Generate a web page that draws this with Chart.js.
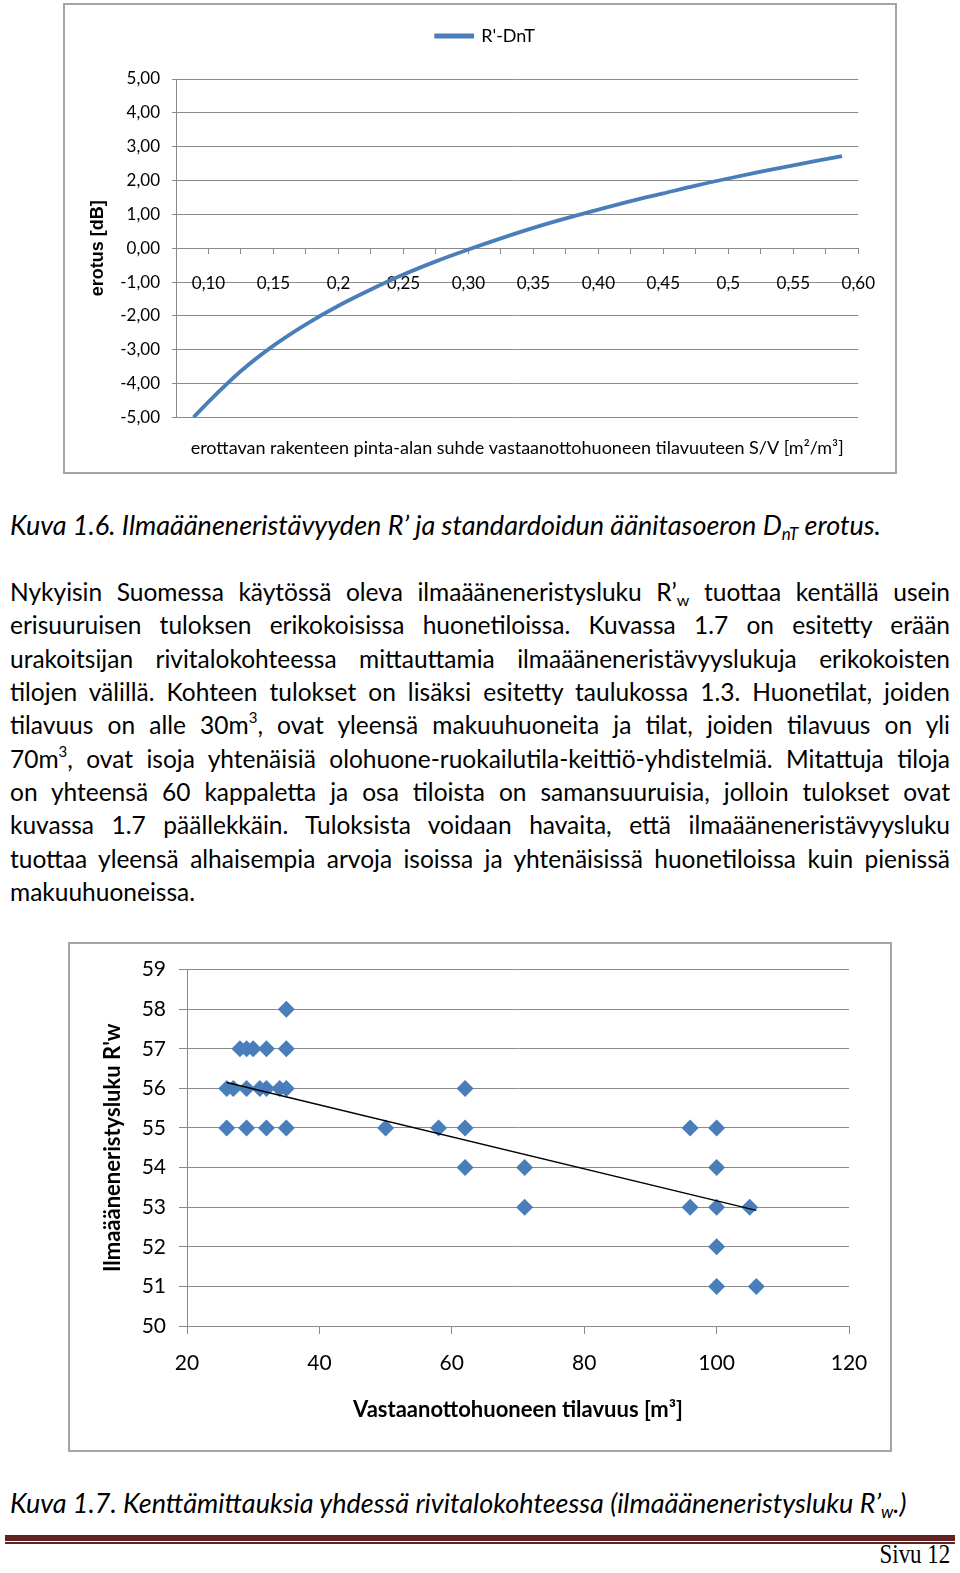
<!DOCTYPE html>
<html lang="fi">
<head>
<meta charset="utf-8">
<title>Kuva 1.6 ja 1.7</title>
<script src="https://cdn.jsdelivr.net/npm/chart.js@4.4.1/dist/chart.umd.min.js"></script>
<style>
html, body { margin: 0; padding: 0; background: #fff; }
body { position: relative; width: 960px; height: 1573px; overflow: hidden; font-family: Lato, "Open Sans", sans-serif; color: #000; }
.kehys { position: absolute; box-sizing: border-box; border: 2px solid #a5a5a5; background: #fff; }
.kehys canvas { display: block; }
.kuvateksti { position: absolute; left: 10px; font-size: 27px; font-style: italic; white-space: nowrap; line-height: 30px; }
.kuvateksti sub { font-size: 17px; vertical-align: -5px; line-height: 0; }
#teksti { position: absolute; left: 10px; top: 575px; width: 940px; font-size: 24.5px; }
#teksti div { height: 33.33px; line-height: 33.33px; text-align: justify; text-align-last: justify; }
#teksti div.viim { text-align-last: left; }
#teksti sup { font-size: 15px; vertical-align: 11px; line-height: 0; }
#teksti sub { font-size: 16px; vertical-align: -5px; line-height: 0; }
.viiva { position: absolute; left: 5px; width: 950px; background: #622423; }
#sivu { position: absolute; right: 10px; top: 1538px; font-family: "Liberation Serif", serif; font-size: 27px; line-height: 32px; transform: scaleX(0.85); transform-origin: right; }
</style>
</head>
<body>

<div class="kehys" style="left:63px; top:3px; width:834px; height:471px;">
  <canvas id="kuva16" width="830" height="467"></canvas>
</div>

<div class="kuvateksti" style="top:510px;">Kuva 1.6. Ilmaääneneristävyyden R’ ja standardoidun äänitasoeron D<sub>nT</sub> erotus.</div>

<div id="teksti">
  <div>Nykyisin Suomessa käytössä oleva ilmaääneneristysluku R’<sub>w</sub> tuottaa kentällä usein</div>
  <div>erisuuruisen tuloksen erikokoisissa huonetiloissa. Kuvassa 1.7 on esitetty erään</div>
  <div>urakoitsijan rivitalokohteessa mittauttamia ilmaääneneristävyyslukuja erikokoisten</div>
  <div>tilojen välillä. Kohteen tulokset on lisäksi esitetty taulukossa 1.3. Huonetilat, joiden</div>
  <div>tilavuus on alle 30m<sup>3</sup>, ovat yleensä makuuhuoneita ja tilat, joiden tilavuus on yli</div>
  <div>70m<sup>3</sup>, ovat isoja yhtenäisiä olohuone-ruokailutila-keittiö-yhdistelmiä. Mitattuja tiloja</div>
  <div>on yhteensä 60 kappaletta ja osa tiloista on samansuuruisia, jolloin tulokset ovat</div>
  <div>kuvassa 1.7 päällekkäin. Tuloksista voidaan havaita, että ilmaääneneristävyysluku</div>
  <div>tuottaa yleensä alhaisempia arvoja isoissa ja yhtenäisissä huonetiloissa kuin pienissä</div>
  <div class="viim">makuuhuoneissa.</div>
</div>

<div class="kehys" style="left:68px; top:942px; width:824px; height:510px;">
  <canvas id="kuva17" width="820" height="506"></canvas>
</div>

<div class="kuvateksti" style="top:1488px;">Kuva 1.7. Kenttämittauksia yhdessä rivitalokohteessa (ilmaääneneristysluku R’<sub>w</sub>.)</div>

<div class="viiva" style="top:1535px; height:6px;"></div>
<div class="viiva" style="top:1542px; height:2px;"></div>
<div id="sivu">Sivu 12</div>

<script>
// Kuva 1.6: R'-DnT erotus S/V-suhteen mukaan (arvot luettu kuvasta)
const svSuhde = [0.0885, 0.10, 0.125, 0.15, 0.175, 0.20, 0.225, 0.25, 0.275, 0.30, 0.325,
                 0.35, 0.375, 0.40, 0.425, 0.45, 0.475, 0.50, 0.525, 0.55, 0.575, 0.5875];
const erotus = [-5.00, -4.54, -3.63, -2.88, -2.25, -1.70, -1.22, -0.78, -0.39, -0.04, 0.29,
                0.60, 0.88, 1.14, 1.39, 1.62, 1.85, 2.06, 2.26, 2.45, 2.63, 2.72];
const svTikit = [0.075, 0.10, 0.125, 0.15, 0.175, 0.20, 0.225, 0.25, 0.275, 0.30, 0.325,
                 0.35, 0.375, 0.40, 0.425, 0.45, 0.475, 0.50, 0.525, 0.55, 0.575, 0.60];
const svNimet = ['', '0,10', '', '0,15', '', '0,2', '', '0,25', '', '0,30', '',
                 '0,35', '', '0,40', '', '0,45', '', '0,5', '', '0,55', '', '0,60'];

// Kuva 1.7: kenttämittaukset, tilavuus [m3] ja R'w
const tilavuus = [35,
                  28, 29, 30, 32, 35,
                  26, 27, 29, 31, 32, 34, 35, 62,
                  26, 29, 32, 35, 50, 58, 62, 96, 100,
                  62, 71, 100,
                  71, 96, 100, 105,
                  100,
                  100, 106];
const rwArvo = [58,
                57, 57, 57, 57, 57,
                56, 56, 56, 56, 56, 56, 56, 56,
                55, 55, 55, 55, 55, 55, 55, 55, 55,
                54, 54, 54,
                53, 53, 53, 53,
                52,
                51, 51];
// trendiviiva (alku- ja loppupiste luettu kuvasta)
const trendiX = [26, 106];
const trendiY = [56.15, 52.92];

const sininen = '#4a7ebb';
const harmaa = '#8a8a8a';

Chart.defaults.font.family = 'Lato, "Open Sans", sans-serif';
Chart.defaults.color = '#000';

// siirretään selitettä hieman oikealle kuten alkuperäisessä
const selitesiirto = {
    id: 'selitesiirto',
    afterLayout(chart) {
        if (chart.legend) chart.legend.left += 44;
    }
};

new Chart(document.getElementById('kuva16'), {
    type: 'line',
    data: {
        datasets: [{
            label: "R'-DnT",
            data: svSuhde.map((x, i) => ({ x: x, y: erotus[i] })),
            borderColor: sininen,
            backgroundColor: sininen,
            borderWidth: 3.8,
            pointRadius: 0,
            cubicInterpolationMode: 'monotone'
        }]
    },
    plugins: [selitesiirto],
    options: {
        responsive: false,
        animation: false,
        layout: { padding: { top: 12, right: 33, bottom: 0, left: 0 } },
        plugins: {
            legend: {
                position: 'top',
                labels: { boxWidth: 36, boxHeight: 1, padding: 10, font: { size: 18 } }
            },
            // tyhjä väli selitteen ja kuvaajan välissä
            subtitle: { display: true, text: '', position: 'top', weight: 500, padding: 6, font: { size: 10 } },
            title: {
                display: true,
                text: 'erottavan rakenteen pinta-alan suhde vastaanottohuoneen tilavuuteen S/V [m²/m³]',
                position: 'bottom',
                fullSize: false,
                padding: { top: 20, bottom: 13 },
                font: { size: 18, weight: 'normal' }
            },
            tooltip: { enabled: false }
        },
        scales: {
            x: {
                type: 'linear',
                position: { y: 0 },
                min: 0.075,
                max: 0.60,
                afterBuildTicks: s => { s.ticks = svTikit.map(v => ({ value: v })); },
                ticks: {
                    callback: (v, i) => svNimet[i],
                    autoSkip: false,
                    maxRotation: 0,
                    padding: 20,
                    font: { size: 17 }
                },
                grid: { drawOnChartArea: false, tickLength: 5, color: harmaa },
                border: { color: harmaa }
            },
            y: {
                min: -5,
                max: 5,
                afterFit: s => { s.width = 111; },
                ticks: {
                    stepSize: 1,
                    callback: v => v.toFixed(2).replace('.', ','),
                    padding: 12,
                    font: { size: 17 }
                },
                grid: { color: harmaa, tickLength: 4 },
                border: { color: harmaa },
                title: {
                    display: true,
                    text: 'erotus [dB]',
                    font: { family: '"Liberation Sans", Arial, sans-serif', size: 18, weight: 'bold' },
                    padding: { top: 22 }
                }
            }
        }
    }
});

new Chart(document.getElementById('kuva17'), {
    type: 'scatter',
    data: {
        datasets: [{
            type: 'line',
            label: 'Trendi',
            data: trendiX.map((x, i) => ({ x: x, y: trendiY[i] })),
            borderColor: '#000',
            borderWidth: 1.5,
            pointRadius: 0,
            fill: false
        }, {
            label: "R'w",
            data: tilavuus.map((x, i) => ({ x: x, y: rwArvo[i] })),
            pointStyle: 'rectRot',
            pointRadius: 8.5,
            backgroundColor: sininen,
            borderColor: sininen,
            borderWidth: 0
        }]
    },
    options: {
        responsive: false,
        animation: false,
        layout: { padding: { top: 24, right: 41, bottom: 0, left: 0 } },
        plugins: {
            legend: { display: false },
            tooltip: { enabled: false }
        },
        scales: {
            x: {
                type: 'linear',
                min: 20,
                max: 120,
                afterFit: s => { s.height = 124; },
                ticks: { stepSize: 20, padding: 17, font: { size: 21 } },
                grid: { drawOnChartArea: false, tickLength: 8, color: harmaa },
                border: { color: harmaa },
                title: {
                    display: true,
                    text: 'Vastaanottohuoneen tilavuus [m³]',
                    font: { size: 22, weight: 'bold' },
                    padding: { top: 0, bottom: 27 }
                }
            },
            y: {
                min: 50,
                max: 59,
                afterFit: s => { s.width = 117; },
                ticks: { stepSize: 1, padding: 13, font: { size: 21 } },
                grid: { color: harmaa, tickLength: 8 },
                border: { color: harmaa },
                title: {
                    display: true,
                    text: "Ilmaääneneristysluku R'w",
                    font: { size: 22, weight: 'bold' },
                    padding: { top: 30 }
                }
            }
        }
    }
});
</script>
</body>
</html>
